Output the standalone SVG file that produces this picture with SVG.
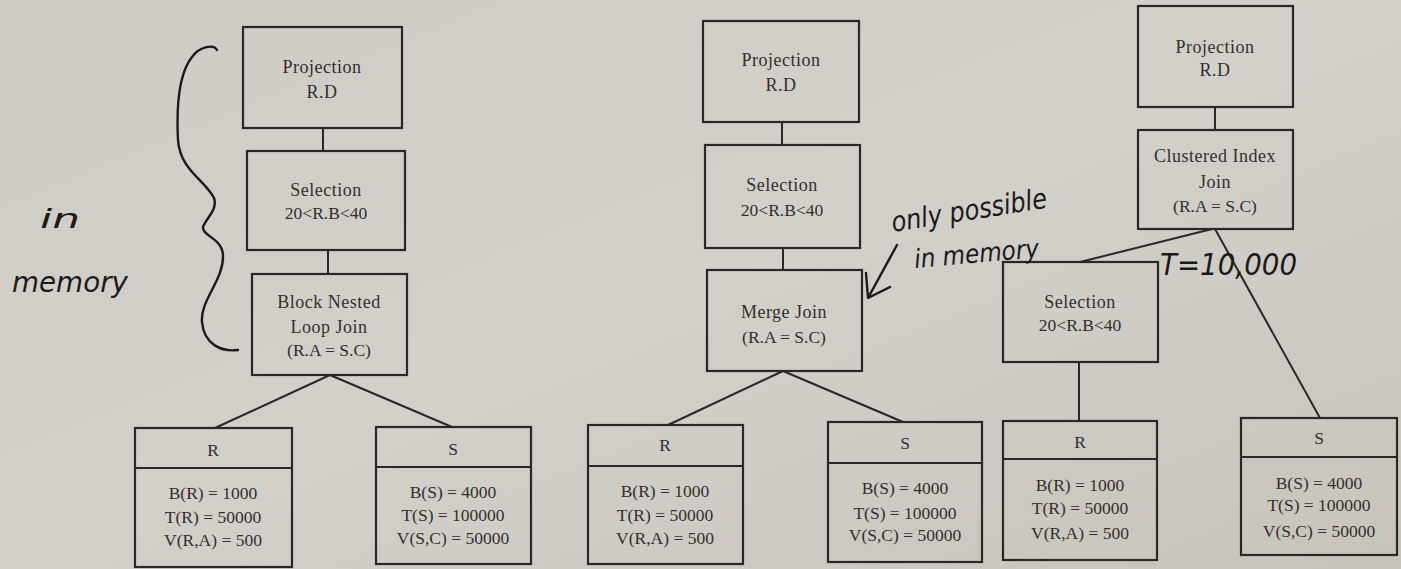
<svg xmlns="http://www.w3.org/2000/svg" width="1401" height="569" viewBox="0 0 1401 569">
<defs>
<linearGradient id="bg" x1="0" y1="0" x2="1" y2="1">
<stop offset="0" stop-color="#cfccc6"/>
<stop offset="0.5" stop-color="#d3d0ca"/>
<stop offset="1" stop-color="#c8c4bc"/>
</linearGradient>
<style>
.box{fill:none;stroke:#2b2724;stroke-width:2.2}
.edge{fill:none;stroke:#2b2724;stroke-width:2}
.t{font-family:"Liberation Serif","Times New Roman",serif;font-size:18px;fill:#332f2c;text-anchor:middle;letter-spacing:0.5px}
.v{font-family:"Liberation Serif","Times New Roman",serif;font-size:17.5px;fill:#332f2c;text-anchor:middle}
.hw{font-family:"DejaVu Sans","Liberation Sans",sans-serif;fill:#1c1a19;font-style:italic}
.ink{fill:none;stroke:#1c1a19;stroke-width:2.4;stroke-linecap:round;stroke-linejoin:round}
</style>
</defs>
<rect x="0" y="0" width="1401" height="569" fill="url(#bg)"/>

<g id="connectors">
<line class="edge" x1="323" y1="128" x2="323" y2="151"/>
<line class="edge" x1="328" y1="250" x2="328" y2="274"/>
<line class="edge" x1="330" y1="375" x2="215" y2="428"/>
<line class="edge" x1="330" y1="375" x2="452" y2="427"/>
<line class="edge" x1="782" y1="122" x2="782" y2="145"/>
<line class="edge" x1="783" y1="248" x2="783" y2="270"/>
<line class="edge" x1="783" y1="371" x2="668" y2="425"/>
<line class="edge" x1="783" y1="371" x2="903" y2="422"/>
<line class="edge" x1="1215" y1="107" x2="1215" y2="130"/>
<line class="edge" x1="1212" y1="229" x2="1080" y2="262"/>
<line class="edge" x1="1215" y1="229" x2="1320" y2="418"/>
<line class="edge" x1="1079" y1="362" x2="1079" y2="421"/>
</g>

<g id="L_proj">
<rect class="box" x="243" y="27" width="159" height="101"/>
<text class="t" x="322" y="73">Projection</text>
<text class="t" x="322" y="98">R.D</text>
</g>
<g id="L_sel">
<rect class="box" x="247" y="151" width="158" height="99"/>
<text class="t" x="326" y="196">Selection</text>
<text class="v" x="326" y="219">20&lt;R.B&lt;40</text>
</g>
<g id="L_join">
<rect class="box" x="252" y="274" width="155" height="101"/>
<text class="t" x="329" y="308">Block Nested</text>
<text class="t" x="329" y="333">Loop Join</text>
<text class="v" x="329" y="356">(R.A = S.C)</text>
</g>
<g id="L_R">
<rect class="box" x="135" y="428" width="157" height="139"/>
<line class="box" x1="135" y1="468" x2="292" y2="468"/>
<text class="v" x="213" y="456">R</text>
<text class="v" x="213" y="499">B(R) = 1000</text>
<text class="v" x="213" y="523">T(R) = 50000</text>
<text class="v" x="213" y="546">V(R,A) = 500</text>
</g>
<g id="L_S">
<rect class="box" x="376" y="427" width="155" height="137"/>
<line class="box" x1="376" y1="467" x2="531" y2="467"/>
<text class="v" x="453" y="455">S</text>
<text class="v" x="453" y="498">B(S) = 4000</text>
<text class="v" x="453" y="521">T(S) = 100000</text>
<text class="v" x="453" y="544">V(S,C) = 50000</text>
</g>

<g id="M_proj">
<rect class="box" x="703" y="21" width="156" height="101"/>
<text class="t" x="781" y="66">Projection</text>
<text class="t" x="781" y="91">R.D</text>
</g>
<g id="M_sel">
<rect class="box" x="705" y="145" width="155" height="103"/>
<text class="t" x="782" y="191">Selection</text>
<text class="v" x="782" y="216">20&lt;R.B&lt;40</text>
</g>
<g id="M_join">
<rect class="box" x="707" y="270" width="155" height="101"/>
<text class="t" x="784" y="318">Merge Join</text>
<text class="v" x="784" y="343">(R.A = S.C)</text>
</g>
<g id="M_R">
<rect class="box" x="588" y="425" width="155" height="139"/>
<line class="box" x1="588" y1="466" x2="743" y2="466"/>
<text class="v" x="665" y="451">R</text>
<text class="v" x="665" y="497">B(R) = 1000</text>
<text class="v" x="665" y="521">T(R) = 50000</text>
<text class="v" x="665" y="544">V(R,A) = 500</text>
</g>
<g id="M_S">
<rect class="box" x="828" y="422" width="154" height="140"/>
<line class="box" x1="828" y1="463" x2="982" y2="463"/>
<text class="v" x="905" y="449">S</text>
<text class="v" x="905" y="494">B(S) = 4000</text>
<text class="v" x="905" y="519">T(S) = 100000</text>
<text class="v" x="905" y="541">V(S,C) = 50000</text>
</g>

<g id="R_proj">
<rect class="box" x="1138" y="6" width="155" height="101"/>
<text class="t" x="1215" y="53">Projection</text>
<text class="t" x="1215" y="76">R.D</text>
</g>
<g id="R_join">
<rect class="box" x="1138" y="130" width="155" height="99"/>
<text class="t" x="1215" y="162">Clustered Index</text>
<text class="t" x="1215" y="188">Join</text>
<text class="v" x="1215" y="212">(R.A = S.C)</text>
</g>
<g id="R_sel">
<rect class="box" x="1003" y="262" width="155" height="100"/>
<text class="t" x="1080" y="308">Selection</text>
<text class="v" x="1080" y="331">20&lt;R.B&lt;40</text>
</g>
<g id="R_R">
<rect class="box" x="1003" y="421" width="154" height="139"/>
<line class="box" x1="1003" y1="459" x2="1157" y2="459"/>
<text class="v" x="1080" y="448">R</text>
<text class="v" x="1080" y="491">B(R) = 1000</text>
<text class="v" x="1080" y="514">T(R) = 50000</text>
<text class="v" x="1080" y="539">V(R,A) = 500</text>
</g>
<g id="R_S">
<rect class="box" x="1241" y="418" width="156" height="137"/>
<line class="box" x1="1241" y1="457" x2="1397" y2="457"/>
<text class="v" x="1319" y="444">S</text>
<text class="v" x="1319" y="489">B(S) = 4000</text>
<text class="v" x="1319" y="511">T(S) = 100000</text>
<text class="v" x="1319" y="537">V(S,C) = 50000</text>
</g>

<g id="annotations">
<path class="ink" d="M217,50 C214,44 200,46 192,57 C180,72 176,100 178,140 C180,170 205,180 214,198 C218,210 206,218 203,227 C202,236 222,238 223,255 C224,280 200,300 202,322 C204,345 222,352 238,350"/>
<text class="hw" x="40" y="228" font-size="26" textLength="40" lengthAdjust="spacingAndGlyphs">in</text>
<text class="hw" x="12" y="292" font-size="28" textLength="116" lengthAdjust="spacingAndGlyphs">memory</text>
<text class="hw" x="893" y="232" font-size="28" textLength="157" lengthAdjust="spacingAndGlyphs" transform="rotate(-9 893 232)">only possible</text>
<text class="hw" x="915" y="268" font-size="26" textLength="125" lengthAdjust="spacingAndGlyphs" transform="rotate(-5 915 268)">in memory</text>
<path class="ink" d="M897,245 L868,298 M866,273 L868,298 L890,287"/>
<text class="hw" x="1160" y="275" font-size="30" textLength="137" lengthAdjust="spacingAndGlyphs" font-style="normal">T=10,000</text>
</g>
</svg>
